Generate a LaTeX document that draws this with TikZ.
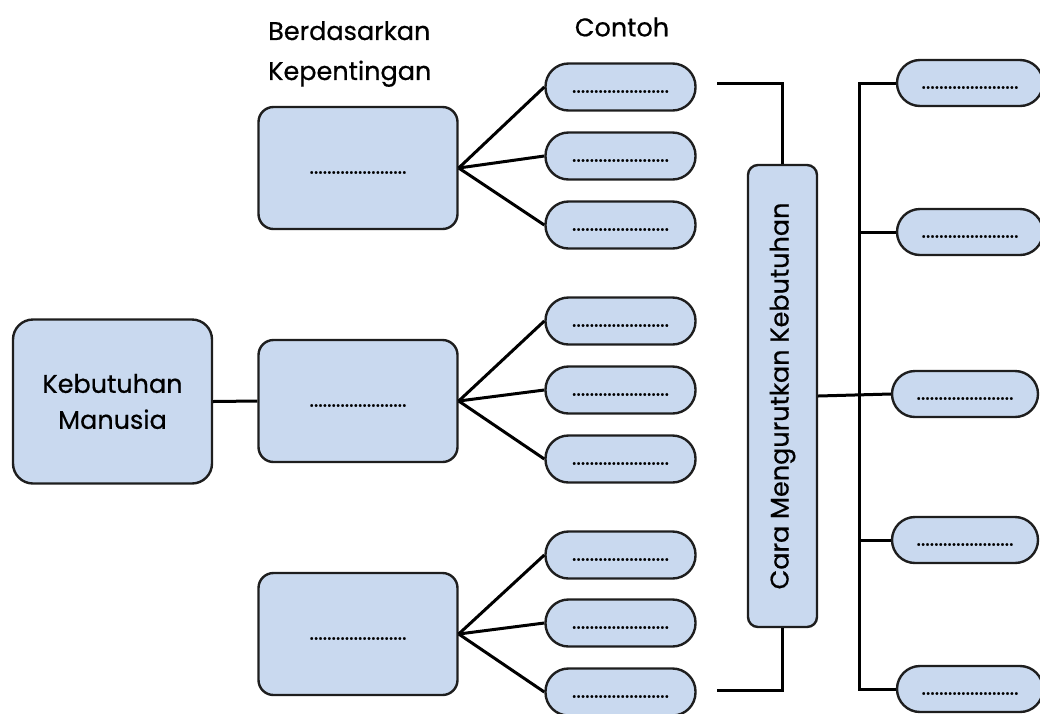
\documentclass[tikz,border=0pt]{standalone}
\usepackage{fontspec}
\setmainfont{Poppins}[FakeBold=0.6]
\definecolor{boxfill}{HTML}{C9D9EF}
\definecolor{edgec}{HTML}{1E1E1E}
\newcommand\blankdots{\vphantom{x}......................}
\begin{document}
\begin{tikzpicture}[x=1pt,y=-1pt,
  base/.style={draw=edgec, fill=boxfill, line width=2.4pt, inner sep=0pt},
  dotsfont/.style={font=\fontsize{21}{24}\selectfont},
  bigbox/.style={base, rounded corners=15pt, minimum width=199pt, minimum height=122pt, dotsfont},
  pill/.style={base, rounded corners=23pt, minimum width=150pt, minimum height=47pt, dotsfont},
  rpill/.style={base, rounded corners=23pt, minimum width=146pt, minimum height=46pt, dotsfont},
  label/.style={font=\fontsize{25.5}{40}\selectfont, inner sep=0pt},
  link/.style={line width=3pt, draw=black}
]
\useasboundingbox (0,0) rectangle (1040,713);

% main node
\node[base, rounded corners=20pt, minimum width=199pt, minimum height=164pt, align=center,
      font=\fontsize{25.5}{36}\selectfont] (km) at (112.5,401.5) {Kebutuhan\\Manusia};

% headers
\node[label, anchor=west, align=left] (hd1) at (268,54) {Berdasarkan\\Kepentingan};
\node[label] (hd2) at (622,27) {Contoh};

% category boxes
\node[bigbox] (c1) at (358,168) {\blankdots};
\node[bigbox] (c2) at (358,401) {\blankdots};
\node[bigbox] (c3) at (358,634) {\blankdots};

% example pills
\node[pill] (p11) at (620.5,87) {\blankdots};
\node[pill] (p12) at (620.5,156) {\blankdots};
\node[pill] (p13) at (620.5,225) {\blankdots};
\node[pill] (p21) at (620.5,321) {\blankdots};
\node[pill] (p22) at (620.5,390) {\blankdots};
\node[pill] (p23) at (620.5,459) {\blankdots};
\node[pill] (p31) at (620.5,555) {\blankdots};
\node[pill] (p32) at (620.5,623) {\blankdots};
\node[pill] (p33) at (620.5,692) {\blankdots};

% vertical box
\node[base, rounded corners=10pt, minimum width=69pt, minimum height=462pt] (cm) at (782.5,396) {};
\node[rotate=90, font=\fontsize{25.5}{28}\selectfont, inner sep=0pt] (cmt) at (cm.center) {Cara Mengurutkan Kebutuhan};

% right pills
\node[rpill] (r1) at (970,83) {\blankdots};
\node[rpill] (r2) at (970,232) {\blankdots};
\node[rpill] (r3) at (965,394) {\blankdots};
\node[rpill] (r4) at (965,540) {\blankdots};
\node[rpill] (r5) at (970,689) {\blankdots};

% connectors
\draw[link] (km.east) -- (c2.west);
\foreach \g in {1,2,3}{
  \foreach \k in {1,2,3}{
    \draw[link] (c\g.east) -- (p\g\k.west);
  }
}
\coordinate (ta) at (717,83);
\coordinate (ba) at (717,690);
\draw[link] (ta) -| (cm.north);
\draw[link] (ba) -| (cm.south);

\coordinate (tt) at (859,83);
\draw[link] (r1.west) -- (tt) |- (r5.west);
\draw[link] (r2.west -| tt) -- (r2.west);
\draw[link] (r4.west -| tt) -- (r4.west);
\draw[link] (cm.east) -- (r3.west);
\end{tikzpicture}
\end{document}
